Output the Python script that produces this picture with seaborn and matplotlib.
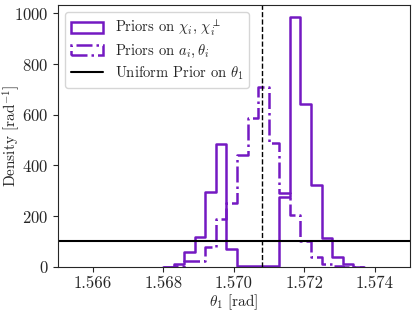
import numpy as np
import pandas as pd
import seaborn as sns
import matplotlib.pyplot as plt
from matplotlib.patches import Patch
from matplotlib.lines import Line2D

# bin grid (rad) and densities
bin_start = 1.56829
bin_width = 0.0003
n_bins = 17
edges = bin_start + bin_width * np.arange(n_bins + 1)

dens_chi = [13, 57, 118, 295, 484, 71, 4, 4, 4, 4, 274, 984, 642, 322, 114, 40, 10]
dens_a_theta = [5, 22, 25, 77, 189, 253, 440, 589, 708, 489, 292, 204, 101, 40, 10, 3, 0]
uniform_density = 100
theta_true = np.pi / 2

labels = [r"Priors on $\chi_i$, $\chi_i^\perp$",
          r"Priors on $a_i, \theta_i$",
          r"Uniform Prior on $\theta_1$"]
purple = "#7419c2"

sns.set_style("ticks")
plt.rcParams["font.family"] = ["cmr10", "DejaVu Serif"]
plt.rcParams["mathtext.fontset"] = "cm"
plt.rcParams["axes.formatter.use_mathtext"] = True
plt.rcParams["axes.unicode_minus"] = False

# pad with empty bins so the step outline drops back to zero
centers = (edges[:-1] + edges[1:]) / 2
pad_centers = np.concatenate([[edges[0] - bin_width / 2], centers, [edges[-1] + bin_width / 2]])
pad_range = (edges[0] - bin_width, edges[-1] + bin_width)
df = pd.DataFrame({
    "theta": np.concatenate([pad_centers, pad_centers]),
    "w": np.concatenate([[0], dens_chi, [0], [0], dens_a_theta, [0]]),
    "prior": ["chi"] * (n_bins + 2) + ["a"] * (n_bins + 2),
})

fig, ax = plt.subplots(figsize=(4.15, 3.11), dpi=100)
fig.subplots_adjust(left=0.139, right=0.988, bottom=0.142, top=0.984)

sns.histplot(data=df[df.prior == "chi"], x="theta", weights="w",
             binwidth=bin_width, binrange=pad_range,
             element="step", fill=False, color=purple, linewidth=1.8, ax=ax)
sns.histplot(data=df[df.prior == "a"], x="theta", weights="w",
             binwidth=bin_width, binrange=pad_range,
             element="step", fill=False, color=purple, linewidth=1.8,
             linestyle="-.", ax=ax)
ax.axhline(uniform_density, color="black", linewidth=1.5)
ax.axvline(theta_true, color="black", linestyle="--", linewidth=1.0)

ax.set_xlim(1.565, 1.575)
ax.set_ylim(0, 1033)
ax.set_xticks([1.566, 1.568, 1.570, 1.572, 1.574])
ax.set_xticklabels(["1.566", "1.568", "1.570", "1.572", "1.574"])
ax.tick_params(labelsize=12, length=3.5, width=0.8, pad=3)
ax.set_xlabel(r"$\theta_1$ [rad]", fontsize=11)
ax.set_ylabel(r"Density [rad$^{-1}$]", fontsize=11)
ax.xaxis.set_label_coords(0.5, -0.097)
ax.yaxis.set_label_coords(-0.101, 0.5)

handles = [Patch(facecolor="none", edgecolor=purple, linewidth=1.8),
           Patch(facecolor="none", edgecolor=purple, linewidth=1.8, linestyle="-."),
           Line2D([], [], color="black", linewidth=1.5)]
ax.legend(handles, labels, loc="upper left", fontsize=10.5, labelspacing=0.3,
          handlelength=2.2, handletextpad=0.8)

fig.savefig("out.png", dpi=100)
